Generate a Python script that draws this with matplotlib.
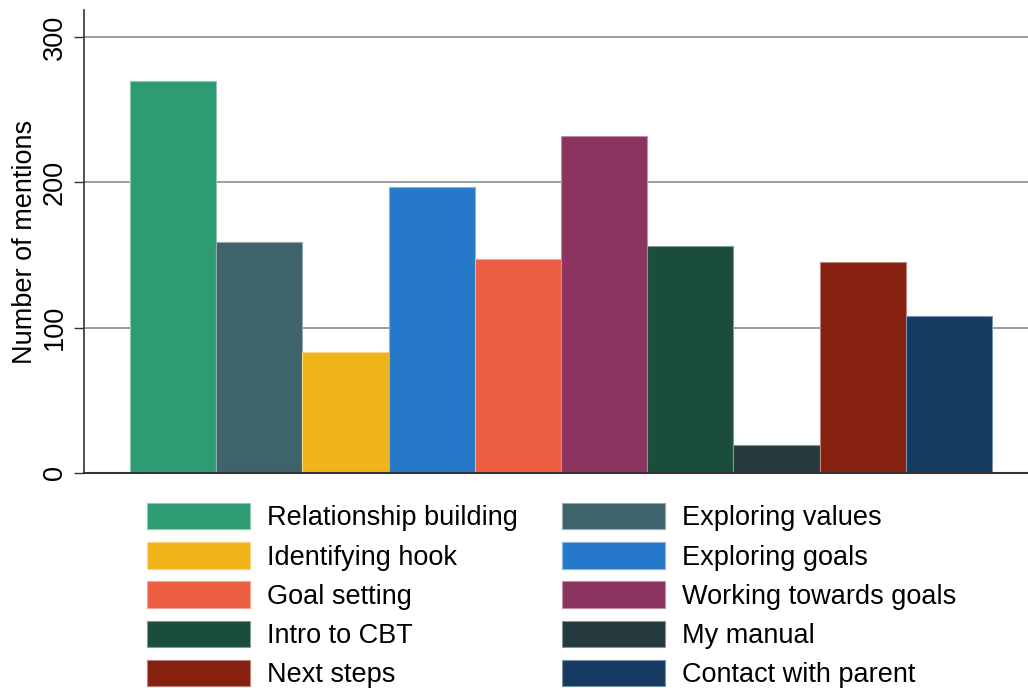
import numpy as np
from matplotlib import pyplot as plt
from matplotlib import colors as mcolors

plt.rcParams['font.family'] = ['Liberation Sans', 'DejaVu Sans']

categories = ['Relationship building', 'Exploring values', 'Identifying hook',
              'Exploring goals', 'Goal setting', 'Working towards goals',
              'Intro to CBT', 'My manual', 'Next steps', 'Contact with parent']
mentions = [270, 159, 83, 197, 147, 232, 156, 19, 145, 108]
bar_colors = ['#2e9c72', '#3f636b', '#f0b41a', '#2678c8', '#eb5e41',
              '#8c345f', '#1a4d3a', '#253a3e', '#86200f', '#153b63']
y_ticks = [0, 100, 200, 300]

FS = 19.5


def lighter(c, amount=0.45):
    rgb = np.array(mcolors.to_rgb(c))
    return tuple(rgb + (1 - rgb) * amount)


fig = plt.figure(figsize=(10.28, 6.88), dpi=100)
W, H = 1028, 688
ax = fig.add_axes([84 / W, 1 - 473 / H, 1 - 84 / W, (473 - 10) / H])

x = np.arange(len(mentions))
bars = ax.bar(x, mentions, width=1.0, color=bar_colors,
              edgecolor=[lighter(c) for c in bar_colors], linewidth=0.8,
              zorder=3)

ax.set_xlim(-0.5 - 46 / 86.2, 9.5 + 36 / 86.2)
ax.set_ylim(0, 318.6)

ax.set_yticks(y_ticks)
ax.set_yticklabels([str(t) for t in y_ticks], rotation=90, va='center',
                   fontsize=FS)
ax.tick_params(axis='y', length=7.5, width=1.0, color='#333333', pad=4)
ax.set_xticks([])
ax.yaxis.grid(True, color='#8c8c8c', linewidth=1.2, zorder=0)
ax.set_axisbelow(True)

ax.set_ylabel('Number of mentions', fontsize=FS, labelpad=3)

for s in ['top', 'right']:
    ax.spines[s].set_visible(False)
ax.spines['left'].set_color('#333333')
ax.spines['left'].set_linewidth(1.2)
ax.spines['bottom'].set_color('#333333')
ax.spines['bottom'].set_linewidth(1.5)
ax.spines['bottom'].set_zorder(4)

# legend in two columns, filled row by row
order = list(range(0, 10, 2)) + list(range(1, 10, 2))
handles = [bars[i] for i in order]
labels = [categories[i] for i in order]
fig.legend(handles, labels, ncol=2, loc='upper left',
           bbox_to_anchor=(147 / W, 1 - 503 / H), frameon=False,
           fontsize=FS, handlelength=3.8, handleheight=1.12,
           handletextpad=0.62, columnspacing=1.65, labelspacing=0.4,
           borderpad=0, borderaxespad=0)

fig.savefig('out.png', dpi=100)
